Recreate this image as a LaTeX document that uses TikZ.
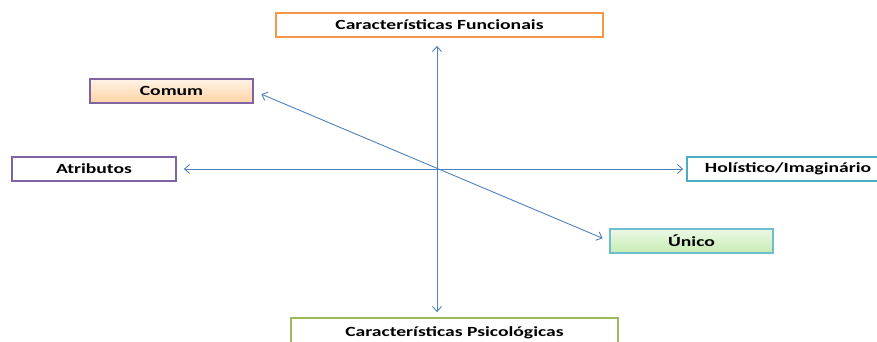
\documentclass[tikz,border=0pt]{standalone}
\usepackage{fontspec}
\usetikzlibrary{arrows.meta}
\newfontfamily\boxfont{Carlito}[FakeStretch=1.4]
\definecolor{axisblue}{HTML}{4F81BD}
\definecolor{boxorange}{HTML}{F79646}
\definecolor{boxpurple}{HTML}{8064A2}
\definecolor{boxteal}{HTML}{4BACC6}
\definecolor{boxgreen}{HTML}{9BBB59}

\begin{document}
\begin{tikzpicture}[
  x=1pt,
  y=-1pt,
  label box/.style={
    draw,
    line width=1.8pt,
    fill=white,
    minimum height=24pt,
    inner sep=0pt,
    font=\boxfont\bfseries\fontsize{14}{16}\selectfont
  },
  axis/.style={
    axisblue,
    line width=0.9pt,
    {Straight Barb[length=5pt,width=9pt]}-{Straight Barb[length=5pt,width=9pt]}
  },
]
\useasboundingbox (0,0) rectangle (877,341);
% boxes
\node[label box,draw=boxorange,minimum width=327pt] (funcional) at (439.5,25) {Características Funcionais};
\node[label box,draw=boxgreen,minimum width=327pt,minimum height=30pt] (psicologica) at (454.5,333) {Características Psicológicas};
\node[label box,draw=boxpurple,minimum width=164pt] (atributos) at (94,169) {Atributos};
\node[label box,draw=boxteal,minimum width=202pt] (holistico) at (788,169) {Holístico/Imaginário};
\node[label box,draw=boxpurple,minimum width=163pt,
  top color=orange!10,bottom color=orange!35] (comum) at (171.5,91) {Comum};
\node[label box,draw=boxteal!80,minimum width=163pt,
  top color=green!50!olive!10,bottom color=green!50!olive!30] (unico) at (691.5,241) {Único};
% axes
\draw[axis,shorten <=8pt,shorten >=5pt] (funcional.south -| 437,0) -- (psicologica.north -| 437,0);
\draw[axis,shorten <=7pt,shorten >=3pt] (atributos) -- (holistico);
\draw[axis,shorten <=8pt,shorten >=7pt] (comum.east) -- (unico.west);
\end{tikzpicture}
\end{document}
